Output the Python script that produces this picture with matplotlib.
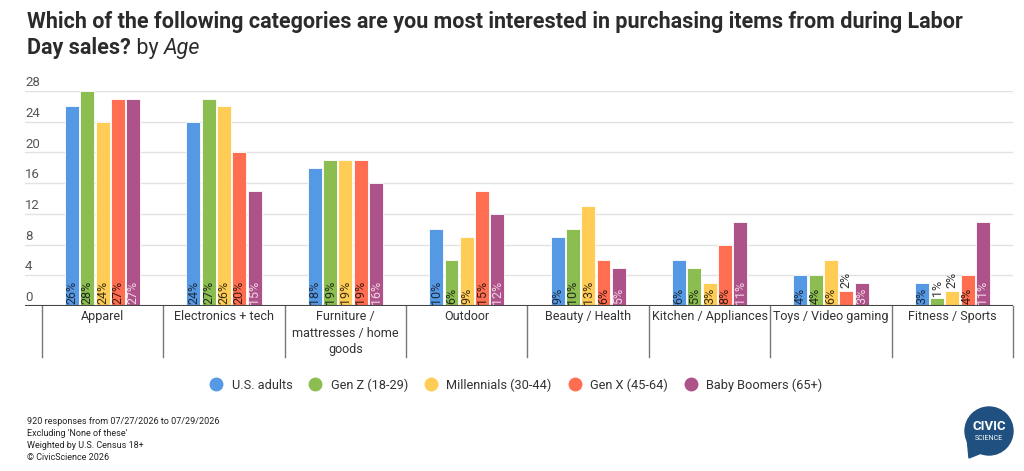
import numpy as np
import matplotlib
matplotlib.use("Agg")
import matplotlib.pyplot as plt
from matplotlib.patches import Ellipse, Polygon
from matplotlib.lines import Line2D
import matplotlib.transforms as mtransforms

plt.rcParams['font.family'] = ['Roboto', 'DejaVu Sans']

categories = ["Apparel", "Electronics + tech", "Furniture /\nmattresses / home\ngoods",
              "Outdoor", "Beauty / Health", "Kitchen / Appliances",
              "Toys / Video gaming", "Fitness / Sports"]
series_names = ["U.S. adults", "Gen Z (18-29)", "Millennials (30-44)",
                "Gen X (45-64)", "Baby Boomers (65+)"]
us_adults = [26, 24, 18, 10, 9, 6, 4, 3]
gen_z = [28, 27, 19, 6, 10, 5, 4, 1]
millennials = [24, 26, 19, 9, 13, 3, 6, 2]
gen_x = [27, 20, 19, 15, 6, 8, 2, 4]
boomers = [27, 15, 16, 12, 5, 11, 3, 11]
y_ticks = [0, 4, 8, 12, 16, 20, 24, 28]

colors = ["#5599e5", "#8bbd50", "#ffcc55", "#ff6e50", "#ae5389"]
label_colors = ["#1f2a3a", "#1f2a1a", "#3a2e10", "#3a1a10", "#f3d6e6"]

W, H = 1024, 471
fig = plt.figure(figsize=(W / 100, H / 100), dpi=100)
ax = fig.add_axes([25 / W, (H - 306) / H, (1013 - 25) / W, 215 / H])

x = np.arange(len(categories))
all_series = [us_adults, gen_z, millennials, gen_x, boomers]
step = 0.126
width = 0.115
for i, (vals, name) in enumerate(zip(all_series, series_names)):
    pos = x + (i - 2) * step
    ax.bar(pos, vals, width, color=colors[i], edgecolor='white', linewidth=0.6,
           label=name, zorder=3)
    for px, v in zip(pos, vals):
        if v >= 3:
            ax.text(px, 0.3, f"{v}%", rotation=90, ha='center', va='bottom',
                    fontsize=9, color=label_colors[i], zorder=4)
        else:
            ax.text(px, v + 0.3, f"{v}%", rotation=90, ha='center', va='bottom',
                    fontsize=9, color="#333333", zorder=4)

ax.set_xlim(-0.5 - 17 / 121.4, len(categories) - 0.5)
ax.set_ylim(0, 28)
for s in ax.spines.values():
    s.set_visible(False)
ax.set_xticks([])
ax.set_yticks([])
for t in y_ticks[1:]:
    ax.axhline(t, color="#e2e2e2", linewidth=1, zorder=1)
ax.axhline(0, color="#444444", linewidth=1.5, zorder=5)

# y tick labels sit above the gridlines, left aligned
ytrans = mtransforms.blended_transform_factory(ax.transAxes, ax.transData)
for t in y_ticks:
    ax.text(0, t + 0.25, str(t), transform=ytrans,
            ha='left', va='bottom', fontsize=9.5, color="#555555")

# category dividers and labels below the baseline
trans = mtransforms.blended_transform_factory(ax.transData, ax.transAxes)
div_bottom = -(357 - 306) / 215
for d in np.arange(-0.5, len(categories), 1.0):
    ax.plot([d, d], [0, div_bottom], transform=trans, color="#777777", linewidth=1,
            clip_on=False)
for xi, cat in zip(x, categories):
    ax.text(xi, -0.02, cat, transform=trans, ha='center', va='top', fontsize=9,
            color="#333333", linespacing=1.35)

# title
fs = 15.5
fig.text(27 / W, 1 - 11 / H,
         "Which of the following categories are you most interested in purchasing items from during Labor",
         fontsize=fs, fontweight='bold', color="#2b2b2b", ha='left', va='top')
t2 = fig.text(27 / W, 1 - 37 / H, "Day sales?", fontsize=fs, fontweight='bold', color="#2b2b2b",
              ha='left', va='top')
a1 = ax.annotate(" by ", xy=(1, 0), xycoords=t2, fontsize=fs, color="#2b2b2b",
                 ha='left', va='bottom', annotation_clip=False)
ax.annotate("Age", xy=(1, 0), xycoords=a1, fontsize=fs, color="#2b2b2b",
            style='italic', ha='left', va='bottom', annotation_clip=False)

# legend
marks = [Line2D([], [], marker='o', linestyle='', markersize=9, color=c) for c in colors]
fig.legend(marks, series_names, loc='center', bbox_to_anchor=(513 / W, 1 - 385 / H),
           ncol=5, frameon=False, fontsize=9.2, handletextpad=0.2, columnspacing=0.8,
           labelcolor="#333333")

# footnote
notes = ["920 responses from 07/27/2026 to 07/29/2026", "Excluding 'None of these'",
         "Weighted by U.S. Census 18+", "\u00a9 CivicScience 2026"]
for k, n in enumerate(notes):
    fig.text(27 / W, 1 - (422 + 12 * k) / H, n, fontsize=6.5, color="#222222",
             ha='left', va='center')

# logo
logo_c = "#1f5080"
cx, cy, r = 989, 431, 24
fig.patches.append(Ellipse((cx / W, 1 - cy / H), 2 * r / W, 2 * r / H,
                           transform=fig.transFigure, color=logo_c))
fig.patches.append(Polygon([[(cx - 22) / W, 1 - (cy + 6) / H], [(cx - 20) / W, 1 - (cy + 27) / H],
                            [(cx - 5) / W, 1 - (cy + 21) / H]], closed=True,
                           transform=fig.transFigure, color=logo_c))
fig.text(cx / W, 1 - (cy - 4) / H, "CIVIC", fontsize=9.5, fontweight='bold', color='white',
         ha='center', va='center')
fig.text(cx / W, 1 - (cy + 8) / H, "SCIENCE", fontsize=5, color='white',
         ha='center', va='center')

fig.savefig("out.png", dpi=100, facecolor='white')
